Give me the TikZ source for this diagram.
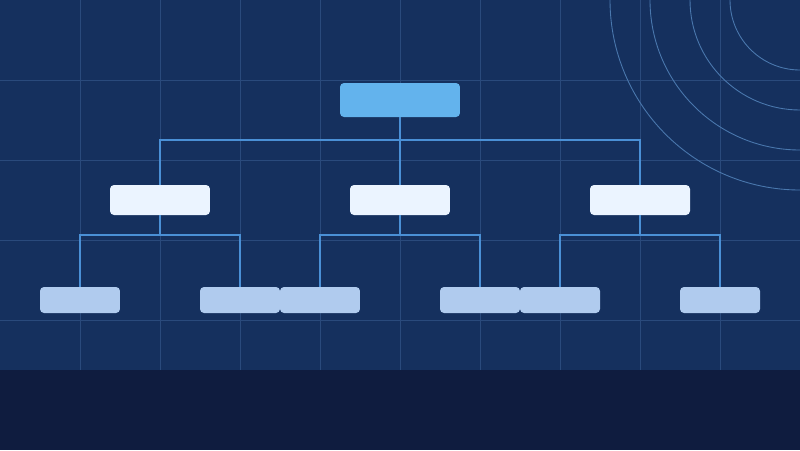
\documentclass[tikz,border=0pt]{standalone}
\usepackage{tikz}
\usetikzlibrary{positioning,calc}
\definecolor{bgblue}{HTML}{15305E}
\definecolor{gridblue}{HTML}{2A4A7C}
\definecolor{footblue}{HTML}{0F1C3F}
\definecolor{rootblue}{HTML}{63B3ED}
\definecolor{midwhite}{HTML}{EBF4FF}
\definecolor{leafblue}{HTML}{B0CBEE}
\definecolor{linkblue}{HTML}{4A90D6}
\definecolor{ringblue}{HTML}{4A78AE}
\tikzset{
    x=0.02cm,
    y=-0.02cm,
    root/.style = {
        shape=rectangle,
        fill=rootblue,
        rounded corners=0.08cm,
        inner sep=0pt,
        minimum width=2.4cm,
        minimum height=0.68cm
    },
    middle/.style = {
        shape=rectangle,
        fill=midwhite,
        rounded corners=0.08cm,
        inner sep=0pt,
        minimum width=2cm,
        minimum height=0.6cm
    },
    leaf/.style = {
        shape=rectangle,
        fill=leafblue,
        rounded corners=0.08cm,
        inner sep=0pt,
        minimum width=1.6cm,
        minimum height=0.52cm
    },
    link/.style = {
        draw=linkblue,
        line width=1.1pt
    },
}
\begin{document}
\begin{tikzpicture}
                \useasboundingbox (0,0) rectangle (800,450);
                \fill[bgblue] (0,0) rectangle (800,370);
                \fill[footblue] (0,370) rectangle (800,450);

                % grid
                \foreach \gx in {80,160,...,720}
                    \path[draw=gridblue, line width=0.5pt] (\gx,0) -- (\gx,370);
                \foreach \gy in {80,160,240,320}
                    \path[draw=gridblue, line width=0.5pt] (0,\gy) -- (800,\gy);

                % rings top right
                \begin{scope}
                    \clip (0,0) rectangle (800,370);
                    \foreach \r in {70,110,150,190}
                        \path[draw=ringblue, line width=0.5pt] (800,0) circle[radius=\r];
                \end{scope}

                \node[root] (top) at (400,100) {};
                \node[middle] (left) at (160,200) {};
                \node[middle] (center) at (400,200) {};
                \node[middle] (right) at (640,200) {};
                \node[leaf] (leftA) at (80,300) {};
                \node[leaf] (leftB) at (240,300) {};
                \node[leaf] (centerA) at (320,300) {};
                \node[leaf] (centerB) at (480,300) {};
                \node[leaf] (rightA) at (560,300) {};
                \node[leaf] (rightB) at (720,300) {};

                \path[link] (top.south) -- ++(0,23) -| (left.north);
                \path[link] (top.south) -- ++(0,23) -| (right.north);
                \path[link] (top.south) -- (center.north);

                \path[link] (left.south) -- ++(0,20) -| (leftA.north);
                \path[link] (left.south) -- ++(0,20) -| (leftB.north);
                \path[link] (center.south) -- ++(0,20) -| (centerA.north);
                \path[link] (center.south) -- ++(0,20) -| (centerB.north);
                \path[link] (right.south) -- ++(0,20) -| (rightA.north);
                \path[link] (right.south) -- ++(0,20) -| (rightB.north);
            \end{tikzpicture}
\end{document}
